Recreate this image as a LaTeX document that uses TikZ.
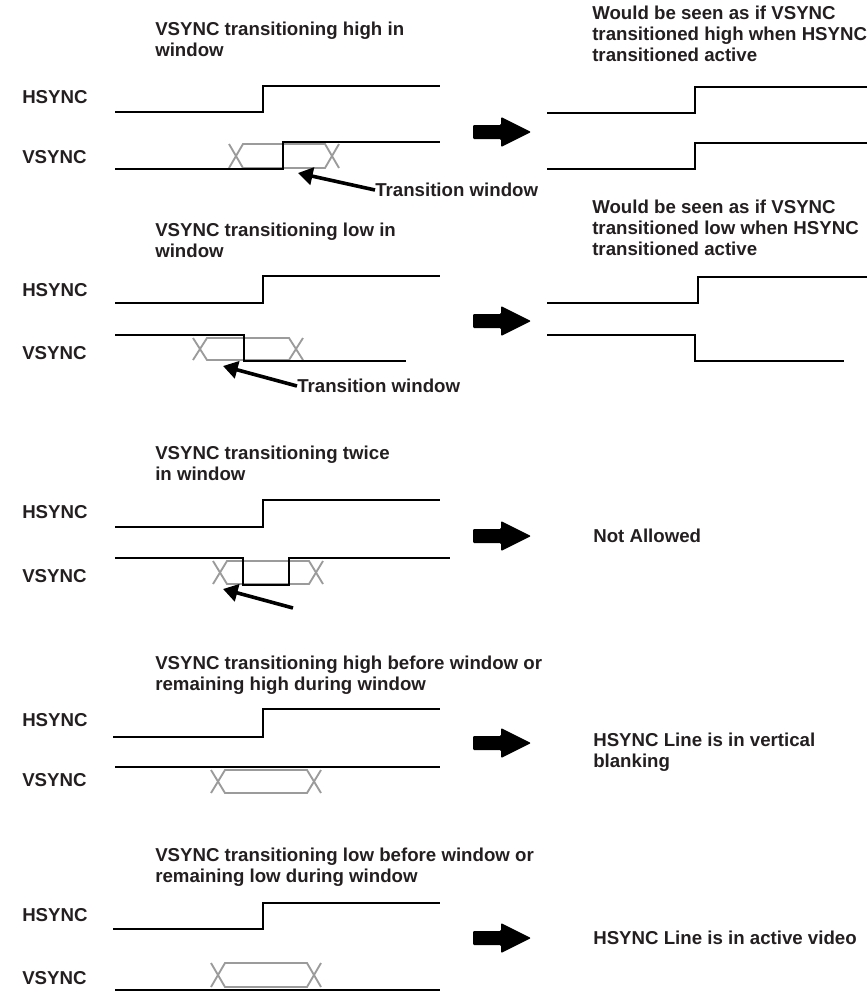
\documentclass[tikz,border=0pt]{standalone}
\usepackage{fontspec}
\setmainfont{Liberation Sans}
\usetikzlibrary{arrows.meta}
\definecolor{txtc}{RGB}{35,31,32}
\definecolor{wing}{RGB}{155,155,155}
\tikzset{
  txt/.style={font=\fontsize{14}{15.6}\selectfont\bfseries, text=txtc, inner sep=0pt, align=left, anchor=north west},
  sig/.style={font=\fontsize{14}{15.6}\selectfont\bfseries, text=txtc, inner sep=0pt, anchor=west},
  wave/.style={line width=1.6pt, black, line join=miter},
  win/.style={line width=1.4pt, wing},
  ptr/.style={line width=2.7pt, black, -{Triangle[length=11pt,width=13pt]}},
  blk/.style={fill=black, rounded corners=0.8pt}
}
\newcommand\winshape[3]{\draw[win] (#1,#2) -- (#1+14,#3) -- (#1+96,#3) -- (#1+110,#2) (#1,#3) -- (#1+14,#2) -- (#1+96,#2) -- (#1+110,#3);}
\newcommand\fatarrow[1]{\fill[blk] (473,#1-7) -- (501,#1-7) -- (501,#1-15) -- (531,#1) -- (501,#1+15) -- (501,#1+7) -- (473,#1+7) -- cycle;}
\begin{document}
\begin{tikzpicture}[x=0.75pt,y=-0.75pt]
\useasboundingbox (0,0) rectangle (867,992);

% ---------- Panel 1 ----------
\node[txt] (t1) at (155,22) {VSYNC transitioning high in\\window};
\node[txt] (r1) at (592,6) {Would be seen as if VSYNC\\transitioned high when HSYNC\\transitioned active};
\node[sig] (h1) at (22,97) {HSYNC};
\node[sig] (v1) at (22,157) {VSYNC};
\winshape{229}{144}{168}
\draw[wave] (115,112) -- (263,112) -- (263,86) -- (440,86);
\draw[wave] (115,169) -- (283,169) -- (283,142) -- (440,142);
\node[sig] (tw1) at (375,190) {Transition window};
\coordinate (p1) at (298,173);
\draw[ptr] (tw1.west) -- (p1);
\fatarrow{132}
\draw[wave] (547,113) -- (695,113) -- (695,87) -- (867,87);
\draw[wave] (547,169) -- (695,169) -- (695,143) -- (867,143);

% ---------- Panel 2 ----------
\node[txt] (t2) at (155,223) {VSYNC transitioning low in\\window};
\node[txt] (r2) at (592,200) {Would be seen as if VSYNC\\transitioned low when HSYNC\\transitioned active};
\node[sig] (h2) at (22,290) {HSYNC};
\node[sig] (v2) at (22,353) {VSYNC};
\winshape{193}{338}{360}
\draw[wave] (115,303) -- (263,303) -- (263,276) -- (440,276);
\draw[wave] (115,335) -- (244,335) -- (244,361) -- (406,361);
\node[sig] (tw2) at (297,386) {Transition window};
\coordinate (p2) at (223,366);
\draw[ptr] (tw2.west) -- (p2);
\fatarrow{321}
\draw[wave] (547,303) -- (698,303) -- (698,277) -- (867,277);
\draw[wave] (547,335) -- (695,335) -- (695,361) -- (844,361);

% ---------- Panel 3 ----------
\node[txt] (t3) at (155,446) {VSYNC transitioning twice\\in window};
\node[sig] (h3) at (22,512) {HSYNC};
\node[sig] (v3) at (22,576) {VSYNC};
\winshape{213}{561}{584}
\draw[wave] (115,527) -- (263,527) -- (263,500) -- (440,500);
\draw[wave] (115,558) -- (243,558) -- (243,585) -- (289,585) -- (289,558) -- (450,558);
\coordinate (q3) at (293,608);
\coordinate (p3) at (223,589);
\draw[ptr] (q3) -- (p3);
\fatarrow{536}
\node[sig] (r3) at (593,536) {Not Allowed};

% ---------- Panel 4 ----------
\node[txt] (t4) at (155,656) {VSYNC transitioning high before window or\\remaining high during window};
\node[sig] (h4) at (22,720) {HSYNC};
\node[sig] (v4) at (22,780) {VSYNC};
\winshape{211}{770}{793}
\draw[wave] (113,737) -- (263,737) -- (263,709) -- (440,709);
\draw[wave] (115,767) -- (440,767);
\fatarrow{743}
\node[txt] (r4) at (593,733) {HSYNC Line is in vertical\\blanking};

% ---------- Panel 5 ----------
\node[txt] (t5) at (155,848) {VSYNC transitioning low before window or\\remaining low during window};
\node[sig] (h5) at (22,915) {HSYNC};
\node[sig] (v5) at (22,978) {VSYNC};
\winshape{211}{963}{987}
\draw[wave] (113,929) -- (263,929) -- (263,903) -- (440,903);
\draw[wave] (115,990) -- (440,990);
\fatarrow{938}
\node[sig] (r5) at (593,938) {HSYNC Line is in active video};
\end{tikzpicture}
\end{document}
